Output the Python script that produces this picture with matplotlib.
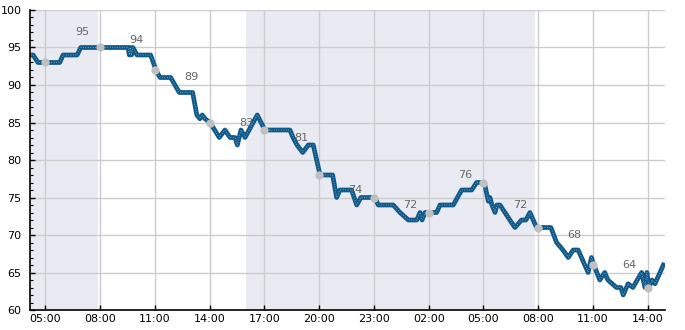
import matplotlib
matplotlib.use('Agg')
import matplotlib.pyplot as plt
from matplotlib.ticker import FixedLocator, MultipleLocator, FuncFormatter

# time in hours since midnight of day 1 (values > 24 are the next day)
hours = [4.22, 4.33, 4.60, 5.79, 5.97, 6.74, 6.94, 9.53, 9.60, 9.66, 9.72, 9.80, 10.02,
         10.77, 11.06, 11.28, 11.87, 12.10, 12.34, 13.07, 13.30, 13.47, 13.60, 13.75,
         14.02, 14.53, 14.84, 15.12, 15.39, 15.52, 15.62, 15.72, 15.94, 16.61, 17.03,
         18.40, 18.57, 18.79, 19.10, 19.41, 19.68, 20.05, 20.74, 20.96, 21.14, 21.78,
         22.06, 22.29, 23.06, 23.24, 24.06, 24.43, 24.89, 25.35, 25.53, 25.64, 25.80,
         26.07, 26.44, 26.62, 27.35, 27.81, 28.36, 28.63, 29.05, 29.27, 29.36, 29.47,
         29.64, 29.74, 29.91, 30.45, 30.73, 31.09, 31.33, 31.55, 31.91, 32.70, 33.01,
         33.36, 33.65, 33.92, 34.19, 34.74, 34.92, 35.05, 35.38, 35.65, 35.82, 36.29,
         36.53, 36.66, 36.93, 37.19, 37.67, 37.85, 37.96, 38.07, 38.24, 38.40, 38.86]
values = [94, 94, 93, 93, 94, 94, 95, 95, 94, 95, 94, 95, 94,
          94, 92, 91, 91, 90, 89, 89, 86, 85.5, 86, 85.5,
          85, 83, 84, 83, 83, 82, 83, 84, 83, 86, 84,
          84, 83, 82, 81, 82, 82, 78, 78, 75, 76, 76,
          74, 75, 75, 74, 74, 73, 72, 72, 73, 72, 73,
          73, 73, 74, 74, 76, 76, 77, 77, 74.5, 75, 74,
          73, 74, 74, 72, 71, 72, 72, 73, 71, 71, 69,
          68, 67, 68, 68, 65, 67, 66, 64, 65, 64, 63,
          63, 62, 63.5, 63, 65, 63, 65, 63, 64, 63.5, 66]

# grey dots at the 3-hourly ticks
dot_hours = [5, 8, 11, 14, 17, 20, 23, 26, 29, 32, 35, 38]
dot_values = [93, 95, 92, 85, 84, 78, 75, 73, 77, 71, 66, 63]

# labels one hour before each tick
label_hours = [7, 10, 13, 16, 19, 22, 25, 28, 31, 34, 37]
label_values = [95, 94, 89, 83, 81, 74, 72, 76, 72, 68, 64]

# shaded periods
shades = [(4.16, 7.88), (16.0, 31.85)]

xticks = [5, 8, 11, 14, 17, 20, 23, 26, 29, 32, 35, 38]

fig = plt.figure(figsize=(6.85, 3.3), dpi=100)
ax = fig.add_axes([0.0438, 0.0606, 0.9270, 0.9091])

for a, b in shades:
    ax.axvspan(a, b, color='#eaeaf2', lw=0, zorder=0)

ax.plot(hours, values, color='#0f5a8b', lw=3.4, zorder=3)
ax.plot(hours, values, color='#c9d3db', lw=0.5, ls=(0, (1, 2.5)), zorder=4)
ax.plot(dot_hours, dot_values, 'o', color='#c0c0c0', ms=6, mec='none', zorder=5)
for h, v in zip(label_hours, label_values):
    ax.text(h, v + 2, str(v), ha='center', va='center', fontsize=8, color='#666666', zorder=6)

ax.set_xlim(4.16, 38.95)
ax.set_ylim(60, 100)
ax.xaxis.set_major_locator(FixedLocator(xticks))
ax.xaxis.set_major_formatter(FuncFormatter(lambda h, p: '%02d:00' % (int(round(h)) % 24)))
ax.yaxis.set_major_locator(MultipleLocator(5))
ax.yaxis.set_minor_locator(MultipleLocator(1))

ax.grid(True, color='#cccccc', lw=1, zorder=1)
ax.set_axisbelow(True)
for s in ('top', 'right'):
    ax.spines[s].set_visible(False)
for s in ('left', 'bottom'):
    ax.spines[s].set_color('black')
    ax.spines[s].set_linewidth(1.2)
    ax.spines[s].set_zorder(7)

ax.tick_params(axis='both', which='major', direction='in', length=3.5, width=1,
               labelsize=8, colors='black', pad=6)
ax.tick_params(axis='x', which='major', pad=3)
ax.tick_params(axis='y', which='minor', direction='in', length=2, width=0.8)
ax.tick_params(axis='x', which='minor', length=0)

fig.savefig('out.png', dpi=100)
